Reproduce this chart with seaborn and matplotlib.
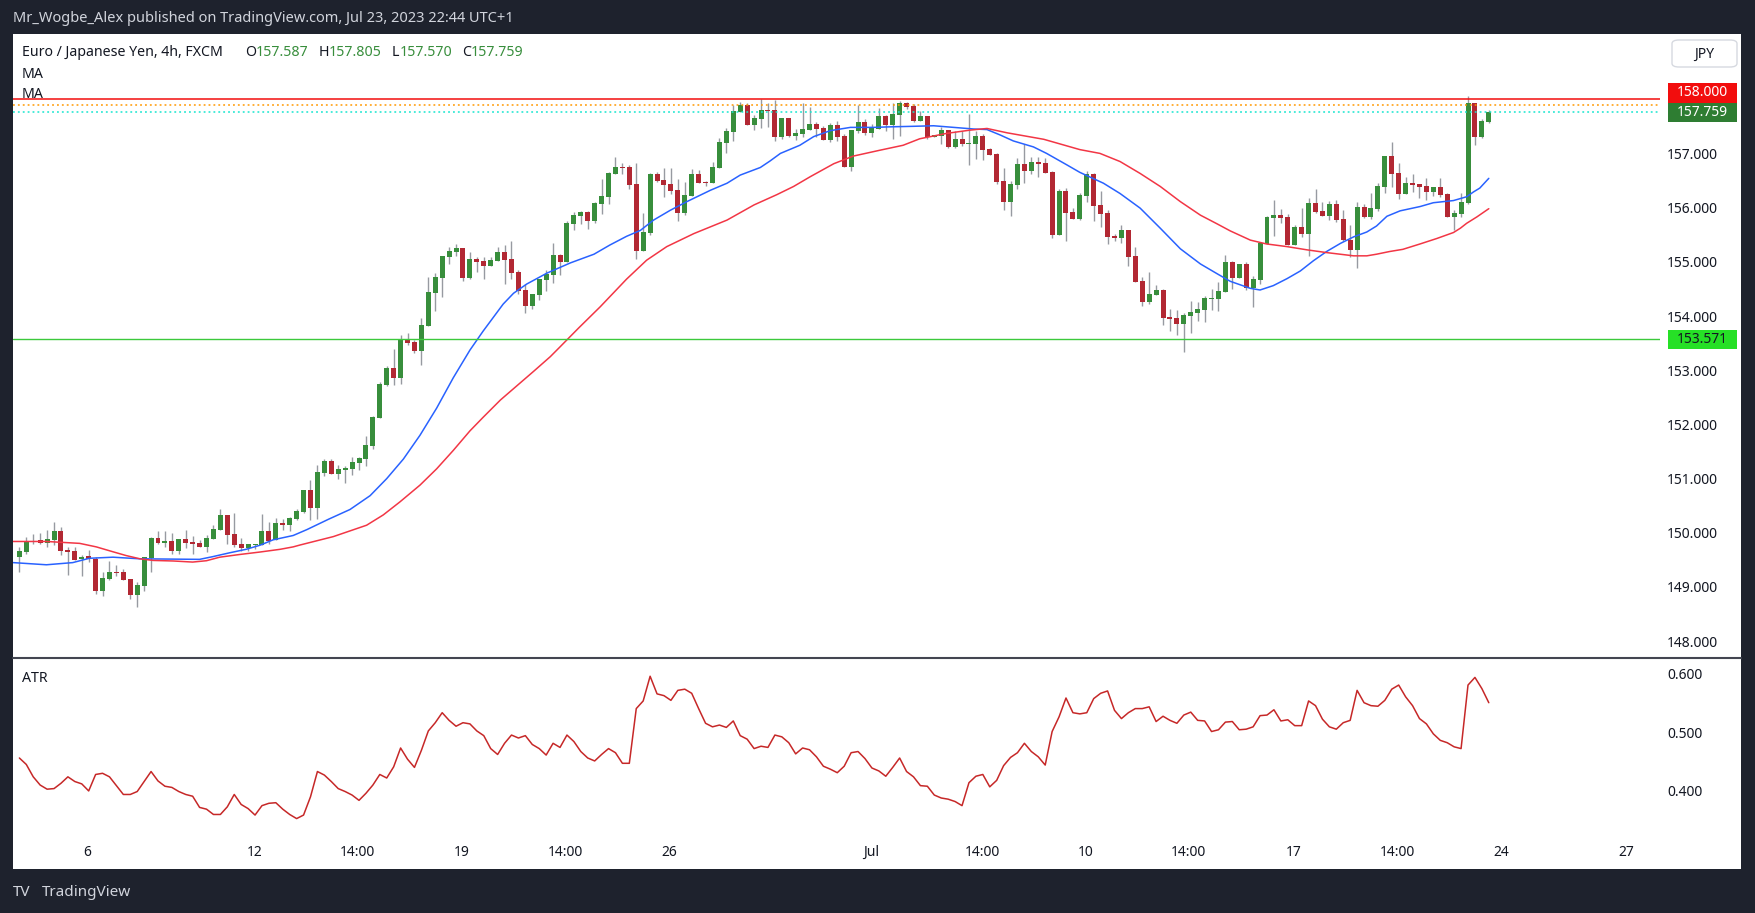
import matplotlib
matplotlib.use("Agg")
import matplotlib.pyplot as plt
from matplotlib.patches import Rectangle, FancyBboxPatch
from matplotlib.lines import Line2D
import seaborn as sns
import pandas as pd
import numpy as np

# ---- data (EUR/JPY 4h, candle index 0 = Jun 6 00:00) ----
first_idx = -10
opens = [149.553, 149.65, 149.84, 149.87, 149.81, 149.87, 150.03, 149.68, 149.66, 149.51,
         149.565, 149.52, 148.93, 149.15, 149.28, 149.28, 149.15, 148.86, 149.025, 149.54,
         149.90, 149.82, 149.85, 149.67, 149.885, 149.83, 149.805, 149.745, 149.89, 150.06,
         150.33, 149.98, 149.79, 149.725, 149.78, 149.78, 150.03, 149.86, 150.18, 150.15,
         150.26, 150.385, 150.79, 150.465, 151.11, 151.325, 151.09, 151.165, 151.18, 151.29,
         151.37, 151.60, 152.124, 152.73, 153.04, 152.862, 153.557, 153.52, 153.36, 153.82,
         154.43, 154.707, 155.088, 155.19, 155.254, 154.707, 155.05, 155.014, 154.922, 155.014,
         155.18, 155.05, 154.81, 154.48, 154.184, 154.387, 154.664, 154.756, 155.125, 154.996,
         155.70, 155.845, 155.92, 155.753, 156.066, 156.195, 156.62, 156.749, 156.749, 156.435,
         155.20, 155.53, 156.62, 156.51, 156.435, 156.324, 155.90, 156.214, 156.62, 156.472,
         156.453, 156.73, 157.192, 157.395, 157.764, 157.893, 157.524, 157.634, 157.80, 157.80,
         157.302, 157.653, 157.32, 157.358, 157.43, 157.542, 157.468, 157.247, 157.524, 157.32,
         156.749, 157.413, 157.579, 157.376, 157.45, 157.69, 157.524, 157.708, 157.93, 157.874,
         157.598, 157.69, 157.302, 157.32, 157.43, 157.118, 157.265, 157.173, 157.173, 157.32,
         157.081, 156.99, 156.49, 156.103, 156.417, 156.804, 156.675, 156.841, 156.823, 156.656,
         155.494, 156.306, 155.918, 155.79, 156.214, 156.62, 156.048, 155.90, 155.476, 155.44,
         155.586, 155.107, 154.646, 154.258, 154.395, 154.479, 153.981, 153.963, 153.852, 154.0,
         154.055, 154.111, 154.314, 154.314, 154.443, 154.996, 154.701, 154.96, 154.517, 154.664,
         155.328, 155.81, 155.864, 155.827, 155.31, 155.642, 155.513, 156.085, 155.937, 155.845,
         156.067, 155.79, 155.40, 155.218, 156.012, 155.827, 155.975, 156.38, 156.952, 156.64,
         156.251, 156.454, 156.435, 156.399, 156.288, 156.38, 156.251, 155.827, 155.882, 156.085,
         157.93, 157.303, 157.587]
highs = [149.732, 149.92, 149.98, 150.00, 150.05, 150.20, 150.11, 149.74, 149.74, 149.59,
         149.69, 149.56, 149.28, 149.48, 149.40, 149.34, 149.15, 149.09, 149.55, 149.92,
         150.03, 150.03, 150.00, 149.89, 150.045, 149.95, 149.87, 149.96, 150.14, 150.44,
         150.335, 150.365, 149.90, 149.79, 149.80, 150.35, 150.20, 150.27, 150.255, 150.285,
         150.445, 150.79, 150.97, 151.245, 151.37, 151.37, 151.25, 151.24, 151.40, 151.405,
         151.785, 152.155, 152.78, 153.077, 153.39, 153.65, 153.686, 153.557, 153.963, 154.72,
         154.80, 155.107, 155.273, 155.328, 155.254, 155.18, 155.094, 155.088, 155.088, 155.273,
         155.31, 155.38, 154.848, 154.59, 154.405, 154.682, 154.848, 155.347, 155.144, 155.753,
         155.92, 155.937, 155.937, 156.103, 156.527, 156.656, 156.933, 156.823, 156.786, 156.823,
         155.90, 156.638, 156.656, 156.73, 156.73, 156.527, 156.472, 156.712, 156.694, 156.49,
         156.84, 157.284, 157.468, 157.893, 157.948, 157.93, 157.708, 158.003, 157.93, 157.985,
         157.653, 157.653, 157.45, 157.93, 157.856, 157.579, 157.505, 157.56, 157.598, 157.358,
         157.43, 157.893, 157.634, 157.542, 157.837, 157.708, 157.93, 157.967, 157.948, 157.911,
         157.782, 157.69, 157.339, 157.487, 157.43, 157.413, 157.413, 157.727, 157.413, 157.358,
         157.10, 157.007, 156.73, 156.49, 156.915, 157.173, 156.933, 156.933, 156.915, 156.675,
         156.343, 156.361, 155.992, 156.27, 156.675, 156.638, 156.306, 155.956, 155.513, 155.679,
         155.586, 155.273, 154.719, 154.812, 154.572, 154.498, 154.129, 154.11, 154.055, 154.277,
         154.258, 154.369, 154.498, 154.627, 155.125, 155.015, 154.96, 154.996, 154.738, 155.365,
         155.845, 156.14, 155.975, 155.882, 155.679, 155.993, 156.177, 156.343, 156.103, 156.122,
         156.14, 155.956, 155.679, 156.103, 156.067, 156.27, 156.454, 156.952, 157.21, 156.823,
         156.565, 156.62, 156.435, 156.546, 156.38, 156.546, 156.27, 155.956, 156.27, 158.059,
         157.93, 157.635, 157.805]
lows = [149.283, 149.615, 149.80, 149.80, 149.73, 149.78, 149.59, 149.22, 149.49, 149.20,
        149.47, 148.88, 148.84, 149.13, 149.21, 149.13, 148.77, 148.64, 148.93, 149.28,
        149.80, 149.74, 149.60, 149.60, 149.725, 149.615, 149.73, 149.65, 149.89, 150.06,
        149.80, 149.73, 149.67, 149.67, 149.71, 149.78, 149.79, 149.86, 150.045, 150.04,
        150.24, 150.37, 150.24, 150.26, 151.05, 151.09, 150.99, 150.925, 151.07, 151.16,
        151.23, 151.55, 152.124, 152.715, 152.73, 152.75, 153.465, 153.323, 153.10, 153.82,
        154.098, 154.357, 154.965, 155.113, 154.652, 154.68, 154.818, 154.683, 154.922, 155.014,
        154.596, 154.68, 154.40, 154.06, 154.135, 154.295, 154.461, 154.609, 154.756, 154.996,
        155.586, 155.70, 155.605, 155.716, 155.88, 156.066, 156.62, 156.62, 156.343, 155.05,
        155.20, 155.494, 156.472, 156.195, 156.25, 155.753, 155.863, 156.214, 156.453, 156.398,
        156.453, 156.73, 157.007, 157.228, 157.764, 157.524, 157.43, 157.468, 157.487, 157.228,
        157.265, 157.302, 157.247, 157.302, 157.43, 157.302, 157.247, 157.21, 157.228, 156.749,
        156.675, 157.376, 157.339, 157.302, 157.45, 157.413, 157.265, 157.32, 157.819, 157.579,
        157.598, 157.265, 157.302, 157.173, 157.10, 157.10, 157.136, 156.786, 156.897, 156.878,
        156.97, 156.435, 155.956, 155.845, 156.343, 156.454, 156.62, 156.564, 156.638, 155.44,
        155.494, 155.384, 155.79, 155.771, 156.103, 155.753, 155.642, 155.328, 155.384, 155.347,
        154.922, 154.627, 154.184, 154.221, 154.395, 153.834, 153.723, 153.649, 153.335, 153.686,
        153.908, 153.89, 154.111, 154.092, 154.443, 154.498, 154.701, 154.48, 154.166, 154.591,
        155.328, 155.476, 155.716, 155.31, 155.31, 155.458, 155.107, 155.9, 155.845, 155.771,
        155.735, 155.384, 155.089, 154.886, 155.808, 155.79, 155.937, 156.27, 156.38, 156.159,
        156.251, 156.288, 156.177, 156.14, 156.214, 156.196, 155.827, 155.587, 155.827, 156.067,
        157.155, 157.285, 157.570]
closes = [149.664, 149.83, 149.83, 149.82, 149.885, 150.03, 149.67, 149.65, 149.50, 149.56,
          149.52, 148.93, 149.17, 149.28, 149.26, 149.135, 148.86, 149.03, 149.55, 149.90,
          149.82, 149.85, 149.67, 149.885, 149.82, 149.80, 149.745, 149.905, 150.07, 150.33,
          149.965, 149.78, 149.725, 149.79, 149.80, 150.03, 149.85, 150.18, 150.15, 150.27,
          150.40, 150.79, 150.465, 151.12, 151.325, 151.09, 151.177, 151.20, 151.305, 151.385,
          151.62, 152.136, 152.75, 153.04, 152.862, 153.57, 153.508, 153.36, 153.834, 154.443,
          154.72, 155.107, 155.20, 155.248, 154.707, 155.05, 154.996, 154.922, 155.033, 155.18,
          155.033, 154.80, 154.461, 154.184, 154.405, 154.682, 154.775, 155.125, 154.996, 155.716,
          155.863, 155.92, 155.753, 156.085, 156.214, 156.638, 156.749, 156.73, 156.417, 155.20,
          155.55, 156.62, 156.49, 156.417, 156.306, 155.90, 156.233, 156.62, 156.453, 156.453,
          156.749, 157.21, 157.413, 157.782, 157.893, 157.524, 157.653, 157.80, 157.782, 157.302,
          157.653, 157.32, 157.376, 157.45, 157.542, 157.45, 157.247, 157.524, 157.302, 156.749,
          157.43, 157.579, 157.376, 157.468, 157.69, 157.524, 157.727, 157.93, 157.856, 157.598,
          157.69, 157.302, 157.339, 157.43, 157.118, 157.265, 157.173, 157.192, 157.32, 157.063,
          156.97, 156.472, 156.103, 156.435, 156.804, 156.675, 156.841, 156.804, 156.638, 155.494,
          156.306, 155.90, 155.79, 156.233, 156.62, 156.03, 155.882, 155.457, 155.44, 155.586,
          155.088, 154.627, 154.258, 154.406, 154.479, 153.963, 153.944, 153.852, 154.018, 154.074,
          154.129, 154.332, 154.332, 154.461, 154.996, 154.701, 154.96, 154.517, 154.683, 155.347,
          155.827, 155.864, 155.81, 155.31, 155.642, 155.513, 156.085, 155.919, 155.845, 156.067,
          155.771, 155.40, 155.218, 156.012, 155.827, 155.993, 156.399, 156.952, 156.62, 156.251,
          156.454, 156.417, 156.38, 156.288, 156.38, 156.233, 155.827, 155.9, 156.103, 157.93,
          157.303, 157.598, 157.759]

ma_fast_x = [-10.9, -6.1, -2.3, 0.1, 3.5, 7.4, 16, 17.9, 20.3, 22.7, 24.7, 26.6, 29.5, 31.5,
             34.6, 37.7, 40.6, 43, 45.4, 47.8, 50.2, 52.6, 55, 56.9, 59.8, 61.3, 63.2, 66.1,
             69.5, 72.9, 75.2, 77.6, 79.6, 81.5, 83.9, 86.3, 89.7, 92.1, 94, 96.9, 98.3, 99.8,
             102.6, 104.6, 107, 109.9, 113.2, 115.6, 119, 121.9, 124.8, 127.7, 129.6, 131.5,
             133.4, 136.3, 138.2, 141.1, 143.0, 146.4, 148.8, 151.7, 154.6, 157.5, 160.4, 162.8,
             164.7, 167.6, 169, 170.9, 172.9, 174.8, 176.7, 178.6, 180.6, 182.5, 184.4, 185.8,
             187.3, 189.2, 192.1, 194, 196.9, 198.8, 199.8, 200.7, 202]
ma_fast_y = [149.45, 149.41, 149.45, 149.53, 149.55, 149.52, 149.51, 149.56, 149.63, 149.695,
             149.77, 149.87, 149.95, 150.06, 150.25, 150.43, 150.685, 151.0, 151.36, 151.80,
             152.30, 152.86, 153.37, 153.72, 154.22, 154.42, 154.59, 154.79, 154.98, 155.14,
             155.31, 155.47, 155.58, 155.77, 155.95, 156.11, 156.32, 156.45, 156.60, 156.74,
             156.86, 157.00, 157.15, 157.31, 157.42, 157.48, 157.48, 157.49, 157.50, 157.51,
             157.48, 157.45, 157.44, 157.34, 157.23, 157.12, 157.00, 156.79, 156.65, 156.45,
             156.26, 155.99, 155.62, 155.24, 154.96, 154.78, 154.64, 154.51, 154.48, 154.56,
             154.69, 154.83, 155.02, 155.19, 155.34, 155.46, 155.55, 155.66, 155.84, 155.94,
             156.02, 156.09, 156.13, 156.20, 156.29, 156.36, 156.54]
ma_slow_x = [-10.9, -6.1, -1.3, 1.1, 3.5, 5.4, 7.4, 9.3, 12.2, 15, 17, 18.9, 21.8, 24.7, 27.6,
             29.5, 30.5, 35.3, 40.1, 42.5, 44.9, 47.8, 50.2, 52.6, 55, 56.9, 59.4, 64.2, 66.6,
             68, 70.7, 73.8, 77.6, 80.5, 83.4, 87.3, 92.1, 96, 99.3, 101.7, 104.1, 107.5, 110.3,
             114.2, 117.5, 119.9, 123.8, 127.2, 129.6, 132.5, 137.8, 143, 145.9, 148.8, 151.7,
             154.6, 157.5, 160.4, 162.8, 164.7, 167.6, 169.9, 172.9, 175.8, 178.6, 182.5, 184.4,
             185.8, 187.7, 189.6, 192.1, 194.5, 196.9, 197.9, 198.8, 200.3, 202]
ma_slow_y = [149.84, 149.84, 149.805, 149.74, 149.65, 149.58, 149.52, 149.49, 149.48, 149.46,
             149.485, 149.55, 149.60, 149.645, 149.695, 149.74, 149.775, 149.93, 150.14, 150.33,
             150.57, 150.88, 151.18, 151.52, 151.88, 152.13, 152.45, 152.98, 153.25,
             153.43, 153.78, 154.17, 154.68, 155.03, 155.28, 155.52, 155.77, 156.05, 156.24, 156.39,
             156.57, 156.81, 156.95, 157.06, 157.15, 157.27, 157.37, 157.43, 157.46, 157.38, 157.26,
             157.07, 157.0, 156.85, 156.63, 156.39, 156.11, 155.86, 155.70, 155.57, 155.40,
             155.33, 155.28, 155.22, 155.17, 155.11, 155.11, 155.14, 155.19, 155.23, 155.33,
             155.43, 155.54, 155.62, 155.71, 155.83, 155.98]

atr = [0.456, 0.445, 0.424, 0.410, 0.403, 0.404, 0.413, 0.424, 0.416, 0.412,
       0.400, 0.428, 0.430, 0.424, 0.409, 0.394, 0.394, 0.399, 0.416, 0.433,
       0.417, 0.408, 0.406, 0.399, 0.394, 0.391, 0.372, 0.369, 0.360, 0.360,
       0.373, 0.394, 0.377, 0.370, 0.359, 0.375, 0.379, 0.380, 0.369, 0.360,
       0.353, 0.359, 0.390, 0.433, 0.427, 0.416, 0.404, 0.399, 0.393, 0.384,
       0.396, 0.410, 0.428, 0.422, 0.441, 0.473, 0.454, 0.440, 0.469, 0.502,
       0.516, 0.533, 0.520, 0.510, 0.516, 0.514, 0.502, 0.494, 0.472, 0.462,
       0.481, 0.495, 0.490, 0.494, 0.479, 0.472, 0.461, 0.481, 0.474, 0.495,
       0.484, 0.467, 0.456, 0.451, 0.462, 0.472, 0.465, 0.447, 0.447, 0.540,
       0.553, 0.595, 0.565, 0.562, 0.554, 0.571, 0.573, 0.566, 0.540, 0.515,
       0.509, 0.512, 0.508, 0.519, 0.494, 0.488, 0.472, 0.476, 0.474, 0.495,
       0.492, 0.482, 0.463, 0.473, 0.470, 0.458, 0.442, 0.437, 0.431, 0.442,
       0.465, 0.467, 0.455, 0.439, 0.434, 0.425, 0.440, 0.456, 0.433, 0.424,
       0.409, 0.408, 0.393, 0.388, 0.386, 0.382, 0.375, 0.414, 0.425, 0.428,
       0.407, 0.418, 0.443, 0.457, 0.465, 0.481, 0.467, 0.458, 0.444, 0.501,
       0.526, 0.558, 0.533, 0.531, 0.533, 0.557, 0.566, 0.570, 0.537, 0.523,
       0.533, 0.540, 0.540, 0.543, 0.518, 0.527, 0.520, 0.515, 0.529, 0.534,
       0.520, 0.519, 0.501, 0.504, 0.517, 0.518, 0.504, 0.505, 0.509, 0.528,
       0.529, 0.538, 0.519, 0.521, 0.511, 0.511, 0.553, 0.545, 0.522, 0.509,
       0.505, 0.516, 0.520, 0.571, 0.550, 0.545, 0.544, 0.554, 0.573, 0.580,
       0.560, 0.545, 0.523, 0.514, 0.497, 0.486, 0.482, 0.475, 0.472, 0.580,
       0.593, 0.574, 0.550]

resistance = 158.000
support = 153.571
prev_level = 157.887
last_price = 157.759

price_ticks = [148, 149, 150, 151, 152, 153, 154, 155, 156, 157]
atr_ticks = [0.4, 0.5, 0.6]
date_pos = [-0.2, 23.9, 38.7, 53.8, 68.8, 83.8, 112.9, 128.9, 143.9, 158.7, 173.9, 188.8, 203.8, 221.9]
date_labels = ['6', '12', '14:00', '19', '14:00', '26', 'Jul', '14:00', '10', '14:00', '17', '14:00', '24', '27']

# ---- style ----
DARK = '#1e222d'
TXT = '#131722'
GREEN = '#388e3c'
RED = '#b22833'
WICK = '#979aa1'
W, H = 1755, 913

sns.set_theme(style='white')
plt.rcParams['font.family'] = ['Noto Sans', 'DejaVu Sans']


def fx(px):
    return px / W


def fy(py):
    return 1 - py / H


fig = plt.figure(figsize=(W / 100, H / 100), dpi=100, facecolor=DARK)
fig.patches.append(Rectangle((fx(13), fy(869)), fx(1741) - fx(13), fy(34) - fy(869),
                             transform=fig.transFigure, fc='white', ec='none', zorder=-10))

main_top, main_bot = 34, 658
atr_top, atr_bot = 658, 838
plot_l, plot_r = 13, 1660
ax = fig.add_axes([fx(plot_l), fy(main_bot), fx(plot_r) - fx(plot_l), fy(main_top) - fy(main_bot)])
ax2 = fig.add_axes([fx(plot_l), fy(atr_bot), fx(plot_r) - fx(plot_l), fy(atr_top) - fy(atr_bot)], sharex=ax)
for a in (ax, ax2):
    a.set_facecolor('none')
    a.set_zorder(1)
    for s in a.spines.values():
        s.set_visible(False)
    a.grid(False)

ylim_main = (147.69, 159.203)
ylim_atr = (0.32, 0.626)

# candles
idx = np.arange(first_idx, first_idx + len(opens))
df = pd.DataFrame({'i': idx, 'open': opens, 'high': highs, 'low': lows, 'close': closes})
up = df['close'] >= df['open']
ax.vlines(df['i'], df['low'], df['high'], color=WICK, lw=1.0, zorder=2)
body = np.maximum((df['close'] - df['open']).abs(), 0.014)
ax.bar(df['i'], body, bottom=np.minimum(df['open'], df['close']), width=0.72,
       color=np.where(up, GREEN, RED), linewidth=0, zorder=3)

# moving averages
sns.lineplot(x=ma_fast_x, y=ma_fast_y, ax=ax, color='#2962ff', lw=1.1, sort=False, estimator=None, zorder=4)
sns.lineplot(x=ma_slow_x, y=ma_slow_y, ax=ax, color='#f23645', lw=1.1, sort=False, estimator=None, zorder=4)

# horizontal levels
ax.axhline(resistance, color='#f20d0d', lw=1.1, zorder=5)
ax.axhline(prev_level, color='#ff9800', lw=1.1, ls=(0, (1.2, 2.0)), zorder=5)
ax.axhline(last_price, color='#18e6cf', lw=1.1, ls=(0, (1.2, 2.0)), zorder=5)
ax.axhline(support, color='#3cc93c', lw=1.0, zorder=5)

ax.set_xlim(-10.92, 226.7)
ax.set_ylim(*ylim_main)
ax.yaxis.tick_right()
ax.set_yticks(price_ticks)
ax.set_yticklabels([f'{v:.3f}' for v in price_ticks])
ax.tick_params(axis='y', length=0, pad=5, labelsize=10, labelcolor=TXT)
ax.tick_params(axis='x', bottom=False, labelbottom=False)

# ATR pane
sns.lineplot(x=idx, y=atr, ax=ax2, color='#c62828', lw=1.1)
ax2.set_ylim(*ylim_atr)
ax2.yaxis.tick_right()
ax2.set_yticks(atr_ticks)
ax2.set_yticklabels([f'{v:.3f}' for v in atr_ticks])
ax2.tick_params(axis='y', length=0, pad=5, labelsize=10, labelcolor=TXT)
ax2.set_xticks(date_pos)
ax2.set_xticklabels(date_labels)
ax2.tick_params(axis='x', length=0, pad=5, labelsize=10, labelcolor=TXT)
for lab in ax2.get_xticklabels():
    if lab.get_text() == 'Jul':
        lab.set_fontweight('bold')
ax2.set_xlabel('')
ax2.set_ylabel('')
ax.set_xlabel('')
ax.set_ylabel('')

# pane separator
fig.add_artist(Line2D([fx(13), fx(1741)], [fy(658), fy(658)], color='#434651', lw=1.5,
                      transform=fig.transFigure, zorder=2))


# price tags on the right scale
def ypx(p):
    return main_top + (ylim_main[1] - p) * (main_bot - main_top) / (ylim_main[1] - ylim_main[0])


tag_h = 19.5


def tag(yc, text, fc, tc):
    fig.patches.append(Rectangle((fx(1668), fy(yc + tag_h / 2)), fx(1737) - fx(1668), tag_h / H,
                                 transform=fig.transFigure, fc=fc, ec='none', zorder=6))
    fig.text(fx(1702.5), fy(yc), text, color=tc, fontsize=10, ha='center', va='center', zorder=7)


y_last = ypx(last_price)
tag(min(ypx(resistance), y_last - tag_h), f'{resistance:.3f}', '#f20d0d', 'white')
tag(y_last, f'{last_price:.3f}', '#2e7d32', 'white')
tag(ypx(support), f'{support:.3f}', '#26e026', TXT)

# JPY button
fig.patches.append(FancyBboxPatch((fx(1672), fy(67)), fx(1737) - fx(1672), 27 / H,
                                  boxstyle='round,pad=0,rounding_size=0.004', transform=fig.transFigure,
                                  fc='white', ec='#d6d9e0', lw=1, zorder=6))
fig.text(fx(1704.5), fy(54), 'JPY', color=TXT, fontsize=10, ha='center', va='center', zorder=7)

# header legend
renderer = fig.canvas.get_renderer()
parts = [('Euro / Japanese Yen, 4h, FXCM', TXT, 22), ('O', TXT, 0), ('157.587', GREEN, 10),
         ('H', TXT, 0), ('157.805', GREEN, 10), ('L', TXT, 0), ('157.570', GREEN, 10),
         ('C', TXT, 0), ('157.759', GREEN, 0)]
x = 22
for s, c, gap in parts:
    t = fig.text(fx(x), fy(53), s, color=c, fontsize=10.2, ha='left', va='center', zorder=7)
    x += t.get_window_extent(renderer).width + gap
fig.text(fx(22), fy(74), 'MA', color=TXT, fontsize=10.2, ha='left', va='center', zorder=7)
fig.text(fx(22), fy(95), 'MA', color=TXT, fontsize=10.2, ha='left', va='center', zorder=7)
fig.text(fx(22), fy(678), 'ATR', color=TXT, fontsize=10.2, ha='left', va='center', zorder=7)

# frame texts
fig.text(fx(13), fy(18), 'Mr_Wogbe_Alex published on TradingView.com, Jul 23, 2023 22:44 UTC+1',
         color='#d1d4dc', fontsize=10.5, ha='left', va='center')
fig.text(fx(13), fy(892), 'TV', color='#d1d4dc', fontsize=11, fontweight='heavy', ha='left', va='center')
fig.text(fx(42), fy(892), 'TradingView', color='#d1d4dc', fontsize=11, fontweight='bold', ha='left', va='center')

fig.savefig('out.png', dpi=100, facecolor=DARK)
